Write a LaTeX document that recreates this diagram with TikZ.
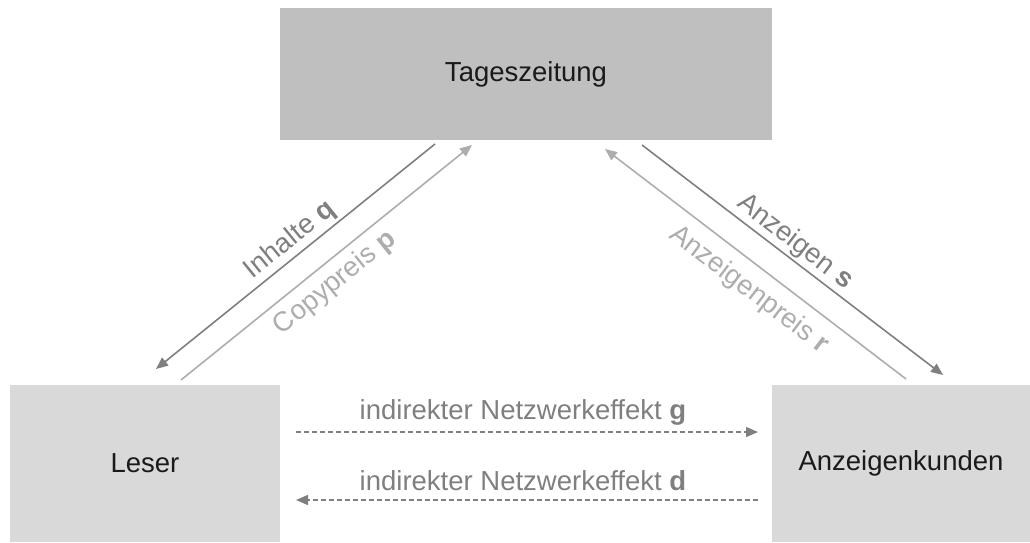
\documentclass[tikz,border=0pt]{standalone}
\usepackage{fontspec}
\setmainfont{Liberation Sans}
\usetikzlibrary{arrows.meta}
\definecolor{boxdark}{HTML}{BFBFBF}
\definecolor{boxlight}{HTML}{D9D9D9}
\definecolor{flowdark}{HTML}{7F7F7F}
\definecolor{flowlight}{HTML}{ADADAD}
\definecolor{txt}{HTML}{1A1A1A}
\begin{document}
\begin{tikzpicture}[x=1pt,y=-1pt,
  every node/.style={font=\fontsize{27.5}{33}\selectfont},
  market/.style={draw=none,inner sep=0pt,text=txt},
  flow/.style={line width=1.6pt,-{Triangle[length=12pt,width=10pt]}},
  effect/.style={line width=1.3pt,dash pattern=on 5pt off 3pt,draw=flowdark,
    -{Triangle[length=12pt,width=10pt]}},
  lbl/.style={inner sep=0pt}]
\useasboundingbox (0,0) rectangle (1030,542);

% markets
\node[market,fill=boxdark,minimum width=492pt,minimum height=132pt] (tz) at (526,74) {Tageszeitung};
\node[market,fill=boxlight,minimum width=270pt,minimum height=157pt] (leser) at (145,463.5) {Leser};
\node[market,fill=boxlight,minimum width=258pt,minimum height=157pt] (kunden) at (901,463.5) {Anzeigenkunden};

% arrow anchors near the boxes
\coordinate (tzq) at (435,144);
\coordinate (tzp) at (472,145);
\coordinate (tzs) at (642,145);
\coordinate (tzr) at (605,149);
\coordinate (leq) at (156,369);
\coordinate (lep) at (181,380);
\coordinate (kus) at (943,375);
\coordinate (kur) at (906,379);
\coordinate (leg) at (296,432);
\coordinate (kug) at (758,432);
\coordinate (led) at (296,500);
\coordinate (kud) at (758,500);

% newspaper <-> readers
\draw[flow,draw=flowdark,-{Triangle[length=12pt,width=10pt]},color=flowdark] (tzq) -- (leq);
\draw[flow,color=flowlight] (lep) -- (tzp);
\node[lbl,text=flowdark,rotate=39] (inh) at (290,240) {Inhalte \textbf{q}};
\node[lbl,text=flowlight,rotate=39] (cp) at (335,283) {Copypreis \textbf{p}};

% newspaper <-> advertisers
\draw[flow,color=flowdark] (tzs) -- (kus);
\draw[flow,color=flowlight] (kur) -- (tzr);
\node[lbl,text=flowdark,rotate=-37.4] (anz) at (795,242) {Anzeigen \textbf{s}};
\node[lbl,text=flowlight,rotate=-37.4] (ap) at (749,290) {Anzeigenpreis \textbf{r}};

% indirect network effects
\draw[effect] (leg) -- (kug);
\draw[effect] (kud) -- (led);
\node[lbl,text=flowdark] (ng) at (523,412) {indirekter Netzwerkeffekt \textbf{g}};
\node[lbl,text=flowdark] (nd) at (523,481) {indirekter Netzwerkeffekt \textbf{d}};
\end{tikzpicture}
\end{document}
